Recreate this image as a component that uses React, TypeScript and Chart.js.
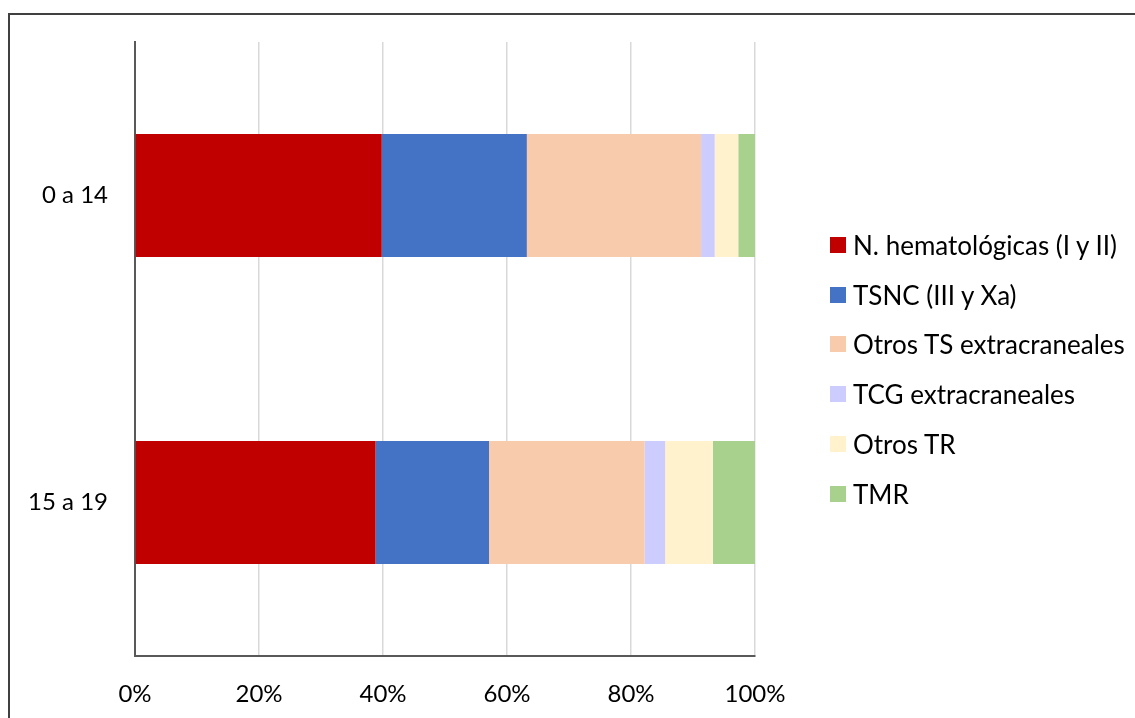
import React, { useEffect, useRef } from "react";
import { Chart, registerables } from "chart.js";

Chart.register(...registerables);

const categories = ["0 a 14", "15 a 19"];
const seriesNames = [
  "N. hematológicas (I y II)",
  "TSNC (III y Xa)",
  "Otros TS extracraneales",
  "TCG extracraneales",
  "Otros TR",
  "TMR",
];
const hematologicas = [39.8, 38.8];
const tsnc = [23.4, 18.3];
const otrosTS = [28.1, 25.1];
const tcg = [2.2, 3.3];
const otrosTR = [3.8, 7.7];
const tmr = [2.7, 6.8];
const xTicks = [0, 20, 40, 60, 80, 100];

const colors = ["#C00000", "#4472C4", "#F8CBAD", "#CCCCFF", "#FFF2CC", "#A9D18E"];
const FONT = "Lato, 'Noto Sans', sans-serif";

export default function App() {
  const ref = useRef<HTMLCanvasElement | null>(null);
  useEffect(() => {
    const values = [hematologicas, tsnc, otrosTS, tcg, otrosTR, tmr];
    const chart = new Chart(ref.current!, {
      type: "bar",
      data: {
        labels: categories,
        datasets: seriesNames.map((n, i) => ({
          label: n,
          data: values[i],
          backgroundColor: colors[i],
          borderWidth: 0,
          barPercentage: 0.4,
          categoryPercentage: 1,
        })),
      },
      options: {
        indexAxis: "y",
        animation: false,
        responsive: false,
        maintainAspectRatio: false,
        layout: { padding: { top: 29, right: 380, left: 0, bottom: 0 } },
        plugins: { legend: { display: false }, tooltip: { enabled: false } },
        scales: {
          x: {
            stacked: true,
            min: 0,
            max: 100,
            afterBuildTicks: (s: any) => {
              s.ticks = xTicks.map((v) => ({ value: v }));
            },
            afterFit: (s: any) => {
              s.height = 62;
              s.paddingLeft = 0;
              s.paddingRight = 0;
            },
            ticks: {
              padding: 24,
              color: "#000",
              font: { family: FONT, size: 24 },
              callback: (v: any) => v + "%",
            },
            grid: { color: "#D9D9D9", lineWidth: 1.5, drawTicks: false },
            border: { color: "#595959", width: 2 },
          },
          y: {
            stacked: true,
            afterFit: (s: any) => {
              s.width = 127;
              s.paddingTop = 0;
              s.paddingBottom = 0;
            },
            ticks: {
              padding: 27,
              color: "#000",
              font: { family: FONT, size: 24 },
            },
            grid: { display: false, drawTicks: false },
            border: { color: "#595959", width: 2 },
          },
        },
      },
    } as any);
    return () => chart.destroy();
  }, []);

  return (
    <div style={{ position: "fixed", left: 0, top: 0, width: 1135, height: 718, overflow: "hidden", background: "#fff" }}>
      <div
        style={{
          position: "absolute",
          left: 8,
          top: 13,
          width: 1140,
          height: 720,
          border: "2px solid #404040",
          boxSizing: "border-box",
        }}
      />
      <canvas
        ref={ref}
        width={1127}
        height={705}
        style={{ position: "absolute", left: 8, top: 13, width: 1127, height: 705 }}
      />
      <div style={{ position: "absolute", left: 830, top: 220, fontFamily: FONT, fontSize: 26, color: "#000" }}>
        {seriesNames.map((n, i) => (
          <div key={n} style={{ display: "flex", alignItems: "center", height: 49.8 }}>
            <span style={{ width: 16, height: 16, flex: "none", background: colors[i], display: "inline-block", marginRight: 7 }} />
            <span style={{ whiteSpace: "nowrap" }}>{n}</span>
          </div>
        ))}
      </div>
    </div>
  );
}
